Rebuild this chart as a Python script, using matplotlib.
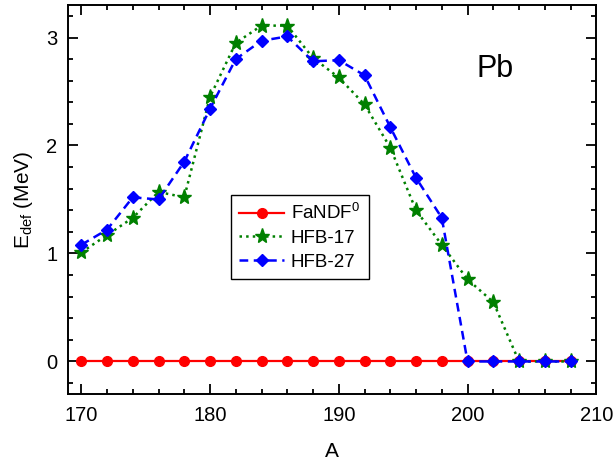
import matplotlib
matplotlib.use("Agg")
import matplotlib.pyplot as plt
from matplotlib.ticker import MultipleLocator

plt.rcParams['font.family'] = ['Liberation Sans', 'DejaVu Sans']
plt.rcParams['mathtext.fontset'] = 'custom'
plt.rcParams['mathtext.rm'] = 'Liberation Sans'
plt.rcParams['mathtext.it'] = 'Liberation Sans:italic'

# Mass numbers of the Pb isotopes
A = [170, 172, 174, 176, 178, 180, 182, 184, 186, 188,
     190, 192, 194, 196, 198, 200, 202, 204, 206, 208]

# Deformation energies (MeV)
fandf0 = [0.0] * len(A)
hfb17 = [1.01, 1.17, 1.33, 1.57, 1.52, 2.45, 2.95, 3.11, 3.11, 2.81,
         2.63, 2.38, 1.98, 1.40, 1.08, 0.76, 0.55, 0.0, 0.0, 0.0]
hfb27 = [1.08, 1.22, 1.52, 1.50, 1.85, 2.34, 2.80, 2.97, 3.01, 2.78,
         2.79, 2.65, 2.17, 1.70, 1.33, 0.0, 0.0, 0.0, 0.0, 0.0]

fig = plt.figure(figsize=(6.16, 4.65), dpi=100)
ax = fig.add_axes([0.111, 0.153, 0.857, 0.836])

ax.plot(A, fandf0, '-', color='red', lw=1.6, marker='o', ms=7,
        label='FaNDF$^0$', zorder=3)
ax.plot(A, hfb17, ':', color='green', lw=1.8, marker='*', ms=11,
        label='HFB-17', zorder=4)
ax.plot(A, hfb27, '--', color='blue', lw=1.8, marker='D', ms=6.5,
        dashes=(3.5, 2.2), label='HFB-27', zorder=5)

ax.set_xlim(169, 210)
ax.set_ylim(-0.3, 3.3)
ax.xaxis.set_major_locator(MultipleLocator(10))
ax.xaxis.set_minor_locator(MultipleLocator(2))
ax.yaxis.set_major_locator(MultipleLocator(1))
ax.yaxis.set_minor_locator(MultipleLocator(0.2))

ax.tick_params(which='both', direction='in', top=True, right=True,
               width=1.3, labelsize=14.5)
ax.tick_params(which='major', length=7)
ax.tick_params(axis='x', which='major', pad=9)
ax.tick_params(axis='y', which='major', pad=8)
ax.tick_params(which='minor', length=3.6)
for s in ax.spines.values():
    s.set_linewidth(1.4)

ax.set_xlabel('A', fontsize=15, labelpad=12)
ax.set_ylabel('E$_{\\rm def}$ (MeV)', fontsize=15, labelpad=8)

ax.text(0.808, 0.835, 'Pb', transform=ax.transAxes, fontsize=22,
        ha='center', va='center')

leg = ax.legend(loc='upper left', bbox_to_anchor=(0.308, 0.512),
                fontsize=13.5, frameon=True, fancybox=False, framealpha=1,
                edgecolor='black', handlelength=2.4, borderpad=0.45,
                labelspacing=0.35, handletextpad=0.35, borderaxespad=0)
leg.get_frame().set_linewidth(1.0)

fig.savefig('out.png', dpi=100)
